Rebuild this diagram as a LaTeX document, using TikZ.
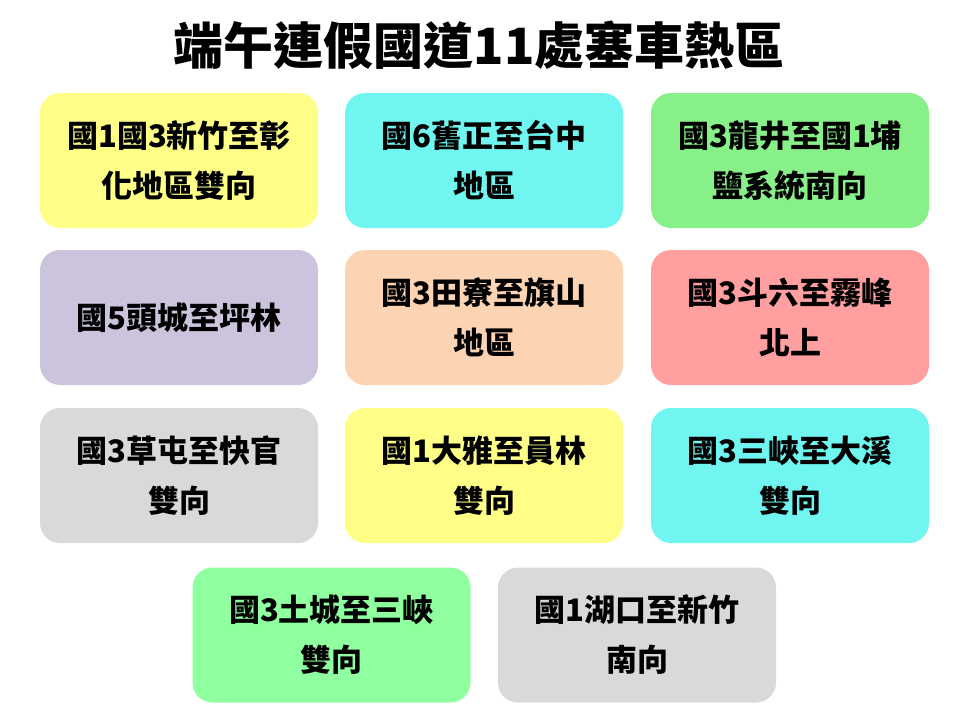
\documentclass[tikz,border=0pt]{standalone}
\usepackage{fontspec}
\newfontfamily\cjk{Noto Sans CJK TC}
\definecolor{cy}{HTML}{FFFF88}
\definecolor{cc}{HTML}{70F5F0}
\definecolor{cg}{HTML}{88F088}
\definecolor{cl}{HTML}{CCC4DC}
\definecolor{cp}{HTML}{FCD4B4}
\definecolor{cr}{HTML}{FF9F9F}
\definecolor{cgr}{HTML}{D9D9D9}
\definecolor{cg2}{HTML}{8FFF9F}
\begin{document}
\begin{tikzpicture}[x=1pt,y=-1pt,
 box/.style={rounded corners=20pt,minimum width=278pt,minimum height=135pt,inner sep=0pt,
  align=center,font=\cjk\bfseries\fontsize{31}{50}\selectfont,text width=278pt}]
\useasboundingbox (0,0) rectangle (960,720);
\node[font=\cjk\bfseries\fontsize{50}{56}\selectfont] (t) at (479,45) {端午連假國道11處塞車熱區};
\node[box,fill=cy] (a1) at (179,160.5) {國1國3新竹至彰\\化地區雙向};
\node[box,fill=cc] (a2) at (484,160.5) {國6舊正至台中\\地區};
\node[box,fill=cg] (a3) at (790,160.5) {國3龍井至國1埔\\鹽系統南向};
\node[box,fill=cl] (b1) at (179,317.5) {國5頭城至坪林};
\node[box,fill=cp] (b2) at (484,317.5) {國3田寮至旗山\\地區};
\node[box,fill=cr] (b3) at (790,317.5) {國3斗六至霧峰\\北上};
\node[box,fill=cgr] (c1) at (179,475.5) {國3草屯至快官\\雙向};
\node[box,fill=cy] (c2) at (484,475.5) {國1大雅至員林\\雙向};
\node[box,fill=cc] (c3) at (790,475.5) {國3三峽至大溪\\雙向};
\node[box,fill=cg2] (d1) at (331.5,635) {國3土城至三峽\\雙向};
\node[box,fill=cgr] (d2) at (637,635) {國1湖口至新竹\\南向};
\end{tikzpicture}
\end{document}
